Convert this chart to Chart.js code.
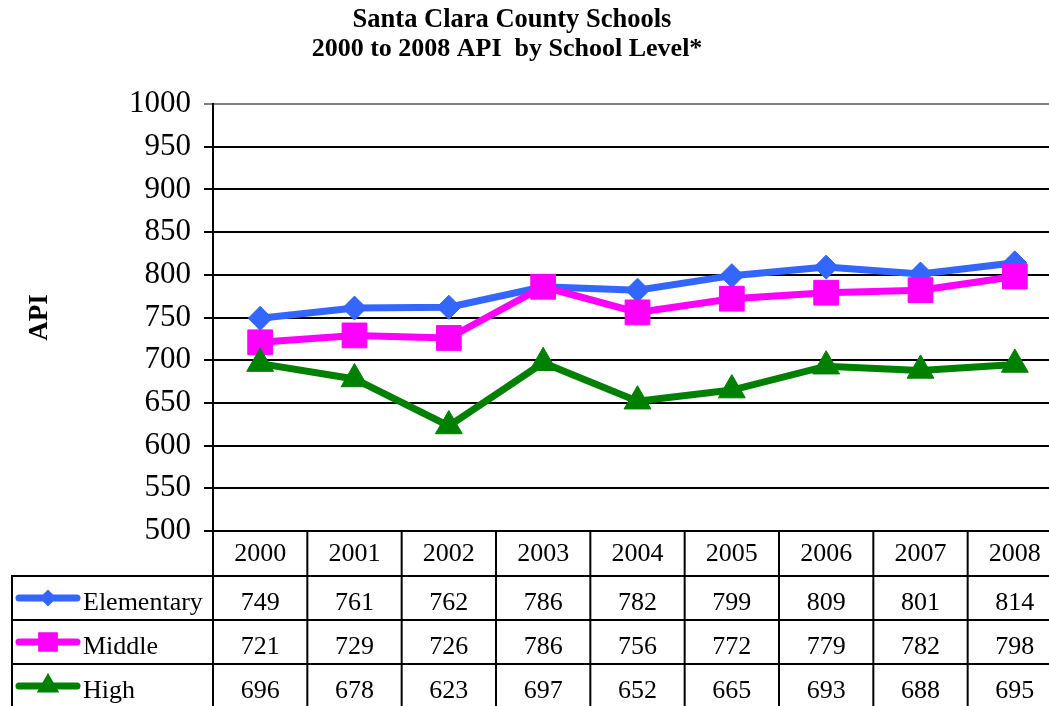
<!DOCTYPE html>
<html>
<head>
<meta charset="utf-8">
<title>Santa Clara County Schools API</title>
<script src="https://cdn.jsdelivr.net/npm/chart.js@4.4.1/dist/chart.umd.min.js"></script>
<style>
    html, body { margin: 0; padding: 0; background: #fff; overflow: hidden; }
    canvas { display: block; }
</style>
</head>
<body>
<canvas id="apiChart" width="1062" height="706"></canvas>
<script>
// ── Data ─────────────────────────────────────────────────────
const years = ['2000', '2001', '2002', '2003', '2004', '2005', '2006', '2007', '2008'];
const elementary = [749, 761, 762, 786, 782, 799, 809, 801, 814];
const middle = [721, 729, 726, 786, 756, 772, 779, 782, 798];
const high = [696, 678, 623, 697, 652, 665, 693, 688, 695];
const seriesNames = ['Elementary', 'Middle', 'High'];
const titleLines = ['Santa Clara County Schools', '2000 to 2008 API  by School Level*'];
const yMin = 500;
const yMax = 1000;
const yStep = 50;

const SERIF = '"Liberation Serif", "Times New Roman", serif';
const colors = ['#3366FF', '#FF00FF', '#008000'];
const styles = ['rectRot', 'rect', 'triangle'];
const legendRadius = [7, 12.5, 11];

function marker(ctx, style, r, x, y, color) {
    ctx.save();
    ctx.fillStyle = color;
    ctx.strokeStyle = color;
    Chart.helpers.drawPoint(ctx, { pointStyle: style, radius: r, borderWidth: 1, rotation: 0 }, x, y);
    ctx.restore();
}

// ── Title drawn above plot ───────────────────────────────────
const titlePlugin = {
    id: 'twoLineTitle',
    afterDraw(chart) {
        const ctx = chart.ctx;
        ctx.save();
        ctx.fillStyle = '#000';
        ctx.textAlign = 'center';
        ctx.textBaseline = 'alphabetic';
        ctx.font = 'bold 26.5px ' + SERIF;
        ctx.fillText(titleLines[0], 512, 27);
        ctx.font = 'bold 26px ' + SERIF;
        ctx.fillText(titleLines[1], 507, 56);
        ctx.restore();
    }
};

// ── Data table under the x axis ──────────────────────────────
const tablePlugin = {
    id: 'dataTable',
    afterDraw(chart) {
        const ctx = chart.ctx;
        const xs = chart.scales.x;
        const band = xs.getPixelForValue(1) - xs.getPixelForValue(0);
        const left = xs.getPixelForValue(0) - band / 2;
        const top = chart.chartArea.bottom;
        const rows = [top + 45, top + 89, top + 133, top + 177];
        const rightEdge = chart.width;

        ctx.save();
        ctx.strokeStyle = '#000';
        ctx.lineWidth = 2;
        ctx.beginPath();
        rows.forEach(y => { ctx.moveTo(12, y); ctx.lineTo(rightEdge, y); });
        for (let i = 0; i <= years.length; i++) {
            const x = left + i * band;
            ctx.moveTo(x, top);
            ctx.lineTo(x, rows[3]);
        }
        ctx.moveTo(12, rows[0] - 1);
        ctx.lineTo(12, rows[3]);
        ctx.stroke();

        const rowData = [elementary, middle, high];
        ctx.font = '26px ' + SERIF;
        ctx.fillStyle = '#000';
        for (let r = 0; r < 3; r++) {
            const cy = (rows[r] + rows[r + 1]) / 2;
            // legend key
            ctx.save();
            ctx.strokeStyle = colors[r];
            ctx.lineWidth = 7;
            ctx.lineCap = 'round';
            ctx.beginPath();
            ctx.moveTo(19, cy);
            ctx.lineTo(77, cy);
            ctx.stroke();
            ctx.restore();
            marker(ctx, styles[r], legendRadius[r], 48, cy, colors[r]);

            ctx.fillStyle = '#000';
            ctx.textAlign = 'left';
            ctx.fillText(seriesNames[r], 83, cy + 12);
            ctx.textAlign = 'center';
            rowData[r].forEach((v, i) => {
                ctx.fillText(String(v), xs.getPixelForValue(i), cy + 12);
            });
        }
        ctx.restore();
    }
};

const apiCtx = document.getElementById('apiChart').getContext('2d');
new Chart(apiCtx, {
    type: 'line',
    data: {
        labels: years,
        datasets: [
            {
                label: seriesNames[0],
                data: elementary,
                borderColor: colors[0],
                backgroundColor: colors[0],
                borderWidth: 7,
                pointStyle: 'rectRot',
                pointRadius: 12,
                pointBorderWidth: 1,
                order: 3
            },
            {
                label: seriesNames[1],
                data: middle,
                borderColor: colors[1],
                backgroundColor: colors[1],
                borderWidth: 7,
                pointStyle: 'rect',
                pointRadius: 17.5,
                pointBorderWidth: 1,
                order: 2
            },
            {
                label: seriesNames[2],
                data: high,
                borderColor: colors[2],
                backgroundColor: colors[2],
                borderWidth: 7,
                pointStyle: 'triangle',
                pointRadius: 15.5,
                pointBorderWidth: 1,
                order: 1
            }
        ]
    },
    options: {
        responsive: false,
        animation: false,
        events: [],
        layout: {
            autoPadding: false,
            padding: { top: 104, left: 0, right: 0, bottom: 0 }
        },
        plugins: {
            legend: { display: false },
            title: { display: false },
            tooltip: { enabled: false }
        },
        scales: {
            x: {
                offset: true,
                grid: { display: false, drawTicks: false },
                border: { display: false },
                ticks: {
                    color: '#000',
                    font: { family: SERIF, size: 26 },
                    padding: 8,
                    maxRotation: 0,
                    autoSkip: false
                },
                afterFit: scale => { scale.height = 175; }
            },
            y: {
                min: yMin,
                max: yMax,
                grid: {
                    color: ctx => (ctx.tick && ctx.tick.value === yMax ? '#808080' : '#000'),
                    lineWidth: 2,
                    tickLength: 9
                },
                border: { display: true, color: '#000', width: 2 },
                ticks: {
                    stepSize: yStep,
                    color: '#000',
                    font: { family: SERIF, size: 31 },
                    padding: 13,
                    callback: v => String(v)
                },
                title: {
                    display: true,
                    text: 'API',
                    color: '#000',
                    font: { family: SERIF, size: 27, weight: 'bold' },
                    padding: { top: 24, bottom: 0 }
                },
                afterFit: scale => { scale.width = 213; }
            }
        }
    },
    plugins: [titlePlugin, tablePlugin]
});
</script>
</body>
</html>
